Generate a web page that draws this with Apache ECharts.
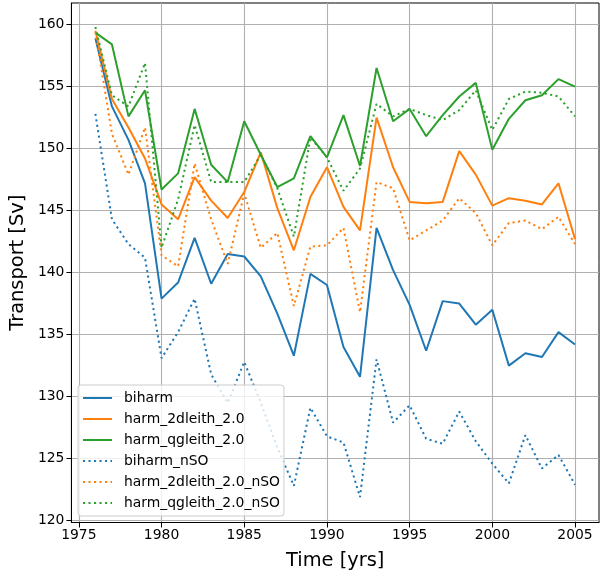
<!DOCTYPE html>
<html><head><meta charset="utf-8">
<script src="https://cdn.jsdelivr.net/npm/echarts@6/dist/echarts.min.js"></script>
<style>html,body{margin:0;padding:0;background:#fff}#c{width:608px;height:581px}</style>
</head><body><div id="c"></div>
<script>
const years = [1976,1977,1978,1979,1980,1981,1982,1983,1984,1985,1986,1987,1988,1989,1990,1991,1992,1993,1994,1995,1996,1997,1998,1999,2000,2001,2002,2003,2004,2005];
const biharm = [158.9,153.4,150.7,147.2,137.9,139.2,142.8,139.1,141.5,141.3,139.7,136.7,133.3,139.9,139.0,134.0,131.6,143.6,140.2,137.4,133.7,137.7,137.5,135.8,137.0,132.5,133.5,133.2,135.2,134.2];
const harm2d = [159.5,154.0,151.7,149.2,145.5,144.3,147.7,145.8,144.4,146.5,149.7,145.2,141.8,146.1,148.5,145.3,143.4,152.5,148.5,145.7,145.6,145.7,149.8,147.9,145.4,146.0,145.8,145.5,147.2,142.7];
const harmqg = [159.35,158.4,152.6,154.7,146.7,148.0,153.2,148.7,147.3,152.2,149.5,146.9,147.6,151.0,149.3,152.7,148.6,156.5,152.2,153.2,151.0,152.7,154.2,155.3,149.9,152.4,153.9,154.3,155.6,155.0];
const biharmNSO = [152.8,144.3,142.3,141.2,133.1,135.2,137.9,131.8,129.5,132.8,129.5,125.9,122.8,129.1,126.8,126.3,121.9,133.0,127.9,129.3,126.6,126.2,128.8,126.4,124.6,123.0,126.9,124.2,125.3,122.9];
const harm2dNSO = [159.4,151.2,147.9,151.7,141.4,140.5,148.8,144.3,140.7,146.4,142.0,143.2,137.3,142.1,142.2,143.6,136.8,147.3,146.8,142.6,143.4,144.2,146.0,144.8,142.2,144.0,144.2,143.5,144.5,142.3];
const harmqgNSO = [159.8,154.3,153.4,156.9,142.0,145.9,151.9,147.3,147.3,147.3,149.5,146.8,142.9,150.9,149.3,146.6,148.4,153.6,152.6,153.2,152.7,152.3,153.1,154.7,151.5,154.0,154.6,154.5,154.2,152.6];
const xTicks = [1975,1980,1985,1990,1995,2000,2005];
const yTicks = [120,125,130,135,140,145,150,155,160];

const C = ['#1f77b4','#ff7f0e','#2ca02c'];
const FONT = 'DejaVu Sans';
function ser(name, vals, color, dotted){
  return {name, type:'line', data: years.map((y,i)=>[y, vals[i]]), symbol:'none', showSymbol:false,
    lineStyle:{color, width:2, type: dotted ? [2.1,3.4] : 'solid', cap:'butt'},
    itemStyle:{color, opacity:0}, animation:false, z: 3};
}
const chart = echarts.init(document.getElementById('c'), null, {renderer:'canvas'});
chart.setOption({
  animation:false,
  textStyle:{fontFamily:FONT},
  grid:{left:71, right:9, top:3, bottom:58.5, show:true, borderColor:'#000', borderWidth:1, backgroundColor:'transparent'},
  xAxis:{type:'value', min:1974.55, max:2006.45,
    name:'Time [yrs]', nameLocation:'middle', nameGap:29, nameTextStyle:{fontSize:19.4, color:'#000', fontFamily:FONT},
    axisLine:{show:true, lineStyle:{color:'#000', width:1}},
    axisTick:{show:true, length:5, lineStyle:{color:'#000'}, customValues:xTicks},
    axisLabel:{color:'#000', fontSize:13.9, margin:6, fontFamily:FONT, customValues:xTicks, formatter: v => String(v)},
    splitLine:{show:true, lineStyle:{color:'#b0b0b0', width:1.1}}},
  yAxis:{type:'value', min:119.85, max:161.74,
    name:'Transport [Sv]', nameLocation:'middle', nameGap:41, nameRotate:90, nameTextStyle:{fontSize:19.4, color:'#000', fontFamily:FONT},
    axisLine:{show:true, lineStyle:{color:'#000', width:1}},
    axisTick:{show:true, length:5, lineStyle:{color:'#000'}, customValues:yTicks},
    axisLabel:{color:'#000', fontSize:13.9, margin:7, fontFamily:FONT, customValues:yTicks, formatter: v => String(v)},
    splitLine:{show:true, lineStyle:{color:'#b0b0b0', width:1.1}}},
  legend:{orient:'vertical', left:78, top:385, itemWidth:29, itemHeight:14, itemGap:7,
    padding:[6,4,6,4], backgroundColor:'rgba(255,255,255,0.8)', borderColor:'#cccccc', borderWidth:1, borderRadius:3,
    itemStyle:{opacity:0},
    textStyle:{fontSize:13.9, color:'#000', fontFamily:FONT, padding:[0,0,0,7]},
    data:['biharm','harm_2dleith_2.0','harm_qgleith_2.0','biharm_nSO','harm_2dleith_2.0_nSO','harm_qgleith_2.0_nSO']},
  series:[
    ser('biharm', biharm, C[0], false),
    ser('harm_2dleith_2.0', harm2d, C[1], false),
    ser('harm_qgleith_2.0', harmqg, C[2], false),
    ser('biharm_nSO', biharmNSO, C[0], true),
    ser('harm_2dleith_2.0_nSO', harm2dNSO, C[1], true),
    ser('harm_qgleith_2.0_nSO', harmqgNSO, C[2], true)
  ]
});
</script></body></html>
